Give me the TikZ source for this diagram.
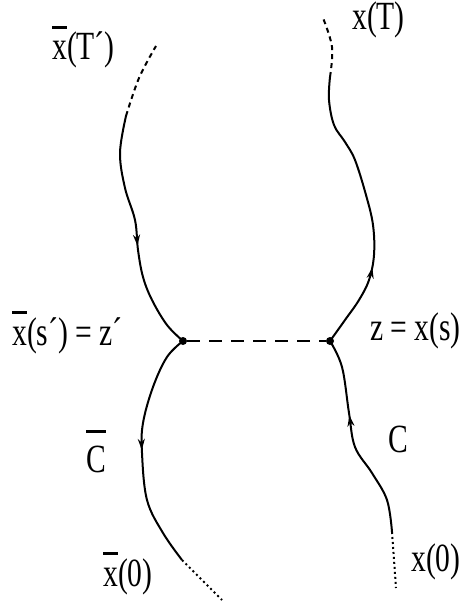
\documentclass[tikz,border=0pt]{standalone}
\usepackage{fontspec}
\setmainfont{Liberation Serif}[FakeStretch=0.74]
\usetikzlibrary{arrows.meta,decorations.markings}

% bar set over a letter
\newcommand{\ovbar}[1]{\setbox0\hbox{#1}\dimen0=\ht0\advance\dimen0 by 0.32em\rlap{\smash{\rule[\dimen0]{\wd0}{0.06em}}}\box0}

\begin{document}
\begin{tikzpicture}[x=1pt, y=-1pt,
    lbl/.style={anchor=base west, inner sep=0pt, font=\fontsize{40}{44}\selectfont},
    curve/.style={line width=2pt},
    flow/.style={postaction={decorate}, decoration={markings,
        mark=at position #1 with {\arrow{Stealth[length=11pt,width=7pt,inset=3.5pt]}}}},
    dot/.style={circle, fill, inner sep=0pt, minimum size=8pt}]
    \useasboundingbox (0,0) rectangle (463,604);

    % meeting points
    \node [dot] (zp) at (183,341) {};
    \node [dot] (z) at (330,341) {};

    % ends of the two paths
    \coordinate (xbT) at (156,46);
    \coordinate (xbTs) at (126,116);
    \coordinate (xb0s) at (182,560);
    \coordinate (xb0) at (222,600);
    \coordinate (xT) at (323,18);
    \coordinate (xTs) at (330,77);
    \coordinate (x0s) at (392,532);
    \coordinate (x0) at (396,588);

    % labels
    \node [lbl] (lxbT) at (52,60) {\ovbar{x}(T´)};
    \node [lbl] (lxT) at (352,30) {x(T)};
    \node [lbl] (lzp) at (12,345) {\ovbar{x}(s´) = z´};
    \node [lbl] (lCb) at (86,472) {\ovbar{C}};
    \node [lbl] (lxb0) at (103,586) {\ovbar{x}(0)};
    \node [lbl] (lz) at (370,340) {z = x(s)};
    \node [lbl] (lC) at (388,452) {C};
    \node [lbl] (lx0) at (411,571) {x(0)};

    % path x-bar
    \draw [curve, dash pattern=on 5pt off 4pt] plot [smooth, tension=0.6] coordinates {(xbTs) (139,78) (xbT)};
    \draw [curve, flow=0.55] plot [smooth, tension=0.6] coordinates {(xbTs) (120,153) (125,188) (135,220) (138,250) (143,277) (152,300) (167,325) (zp.center)};
    \draw [curve, flow=0.5] plot [smooth, tension=0.6] coordinates {(zp.center) (167,357) (153,387) (143,423) (142,453) (147,500) (163,533) (xb0s)};
    \draw [curve, dash pattern=on 2pt off 3pt] plot [smooth, tension=0.6] coordinates {(xb0s) (200,578) (xb0)};

    % path x
    \draw [curve, flow=0.62] plot [smooth, tension=0.6] coordinates {(x0s) (387,500) (372,473) (355,447) (349,413) (342,367) (z.center)};
    \draw [curve, flow=0.3] plot [smooth, tension=0.6] coordinates {(z.center) (345,320) (359,300) (369,280) (374,255) (373,225) (366,195) (355,160) (345,142) (334,125) (329,100) (xTs)};
    \draw [curve, dash pattern=on 5pt off 4pt] plot [smooth, tension=0.6] coordinates {(xTs) (332,47) (xT)};
    \draw [curve, dash pattern=on 2pt off 3pt] plot [smooth, tension=0.6] coordinates {(x0s) (394,560) (x0)};

    % link between the meeting points
    \draw [line width=2.6pt, dash pattern=on 13pt off 9pt] (zp) -- (z);
\end{tikzpicture}
\end{document}
